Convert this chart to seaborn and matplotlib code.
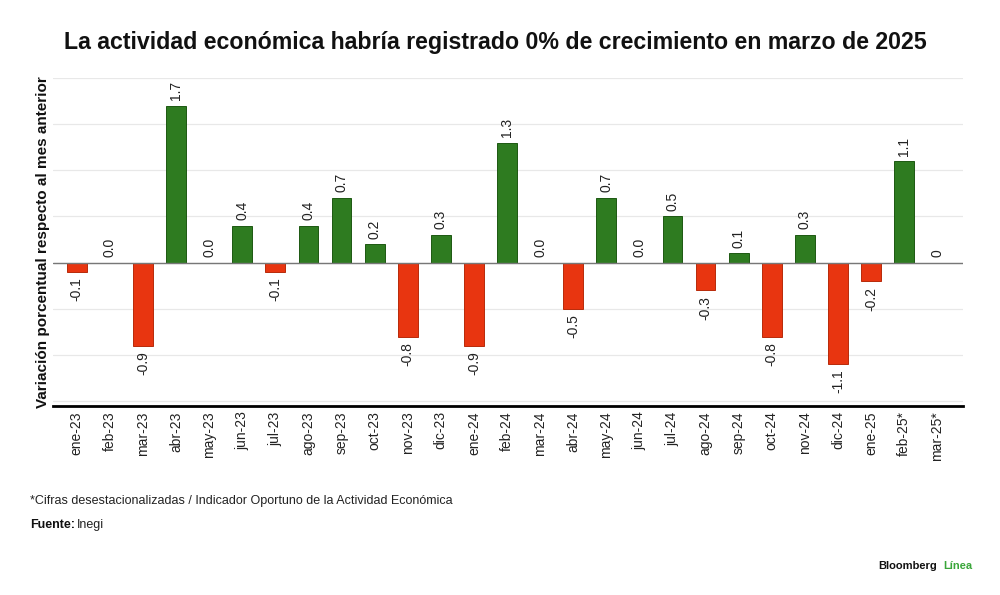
import matplotlib
matplotlib.use("Agg")
import matplotlib.pyplot as plt
import seaborn as sns
import pandas as pd
import numpy as np

months = ["ene-23", "feb-23", "mar-23", "abr-23", "may-23", "jun-23", "jul-23", "ago-23",
          "sep-23", "oct-23", "nov-23", "dic-23", "ene-24", "feb-24", "mar-24", "abr-24",
          "may-24", "jun-24", "jul-24", "ago-24", "sep-24", "oct-24", "nov-24", "dic-24",
          "ene-25", "feb-25*", "mar-25*"]
values = [-0.1, 0.0, -0.9, 1.7, 0.0, 0.4, -0.1, 0.4, 0.7, 0.2, -0.8, 0.3, -0.9, 1.3, 0.0,
          -0.5, 0.7, 0.0, 0.5, -0.3, 0.1, -0.8, 0.3, -1.1, -0.2, 1.1, 0.0]
labels = ["-0.1", "0.0", "-0.9", "1.7", "0.0", "0.4", "-0.1", "0.4", "0.7", "0.2", "-0.8",
          "0.3", "-0.9", "1.3", "0.0", "-0.5", "0.7", "0.0", "0.5", "-0.3", "0.1", "-0.8",
          "0.3", "-1.1", "-0.2", "1.1", "0"]

GREEN = "#2e7b20"
RED = "#e83510"

df = pd.DataFrame({"mes": months, "valor": values})
colors = [GREEN if v >= 0 else RED for v in values]

sns.set_theme(style="white")
plt.rcParams["font.family"] = ["Liberation Sans", "DejaVu Sans"]

fig = plt.figure(figsize=(10, 5.95), dpi=100)
ax = fig.add_axes([0.053, 0.318, 0.91, 0.551])

sns.barplot(data=df, x="mes", y="valor", hue="mes", palette=colors, legend=False,
            width=0.6, saturation=1, ax=ax, zorder=3, linewidth=0.7)
for p, c in zip(ax.patches, colors):
    p.set_edgecolor("#1d5812" if c == GREEN else "#b82a0a")

n = len(months)
ax.set_xlim(-0.72, n - 1 + 0.78)
ax.set_ylim(-1.55, 2.0)
ax.set_yticks(np.arange(-1.5, 2.01, 0.5))
ax.set_yticklabels([])
ax.tick_params(axis="y", length=0)
ax.grid(axis="y", color="#e8e8e8", linewidth=0.9, zorder=0)
ax.axhline(0, color="#777777", linewidth=1.0, zorder=4)

for s in ["top", "right", "left"]:
    ax.spines[s].set_visible(False)
ax.spines["bottom"].set_color("black")
ax.spines["bottom"].set_linewidth(2.0)

ax.set_xlabel("")
ax.set_ylabel("Variación porcentual respecto al mes anterior", fontsize=11,
              fontweight="bold", color="#111111", labelpad=-1)
ax.tick_params(axis="x", length=0, pad=4)
ax.set_xticks(range(n))
ax.set_xticklabels(months, rotation=90, fontsize=10, color="#222222")

for i, (v, lab) in enumerate(zip(values, labels)):
    if v >= 0:
        ax.annotate(lab, (i, v), xytext=(0, 4), textcoords="offset points",
                    rotation=90, ha="center", va="bottom", fontsize=10, color="#222222")
    else:
        ax.annotate(lab, (i, v), xytext=(0, -4), textcoords="offset points",
                    rotation=90, ha="center", va="top", fontsize=10, color="#222222")

fig.text(0.495, 0.928, "La actividad económica habría registrado 0% de crecimiento en marzo de 2025",
         ha="center", va="center", fontsize=16.7, fontweight="bold", color="#111111",
         family=["Liberation Sans Narrow", "Liberation Sans", "DejaVu Sans"])

fig.text(0.030, 0.158, "*Cifras desestacionalizadas / Indicador Oportuno de la Actividad Económica",
         ha="left", va="center", fontsize=9, color="#222222")
fig.text(0.030, 0.118, "Fuente:", ha="left", va="center", fontsize=9, fontweight="bold",
         color="#111111")
fig.text(0.077, 0.118, "Inegi", ha="left", va="center", fontsize=9, color="#222222")

fig.text(0.972, 0.048, "Línea", ha="right", va="center", fontsize=8, fontweight="bold",
         color="#3aa63a")
fig.text(0.937, 0.048, "Bloomberg", ha="right", va="center", fontsize=8, fontweight="bold",
         color="#111111")

fig.savefig("out.png", dpi=100)
